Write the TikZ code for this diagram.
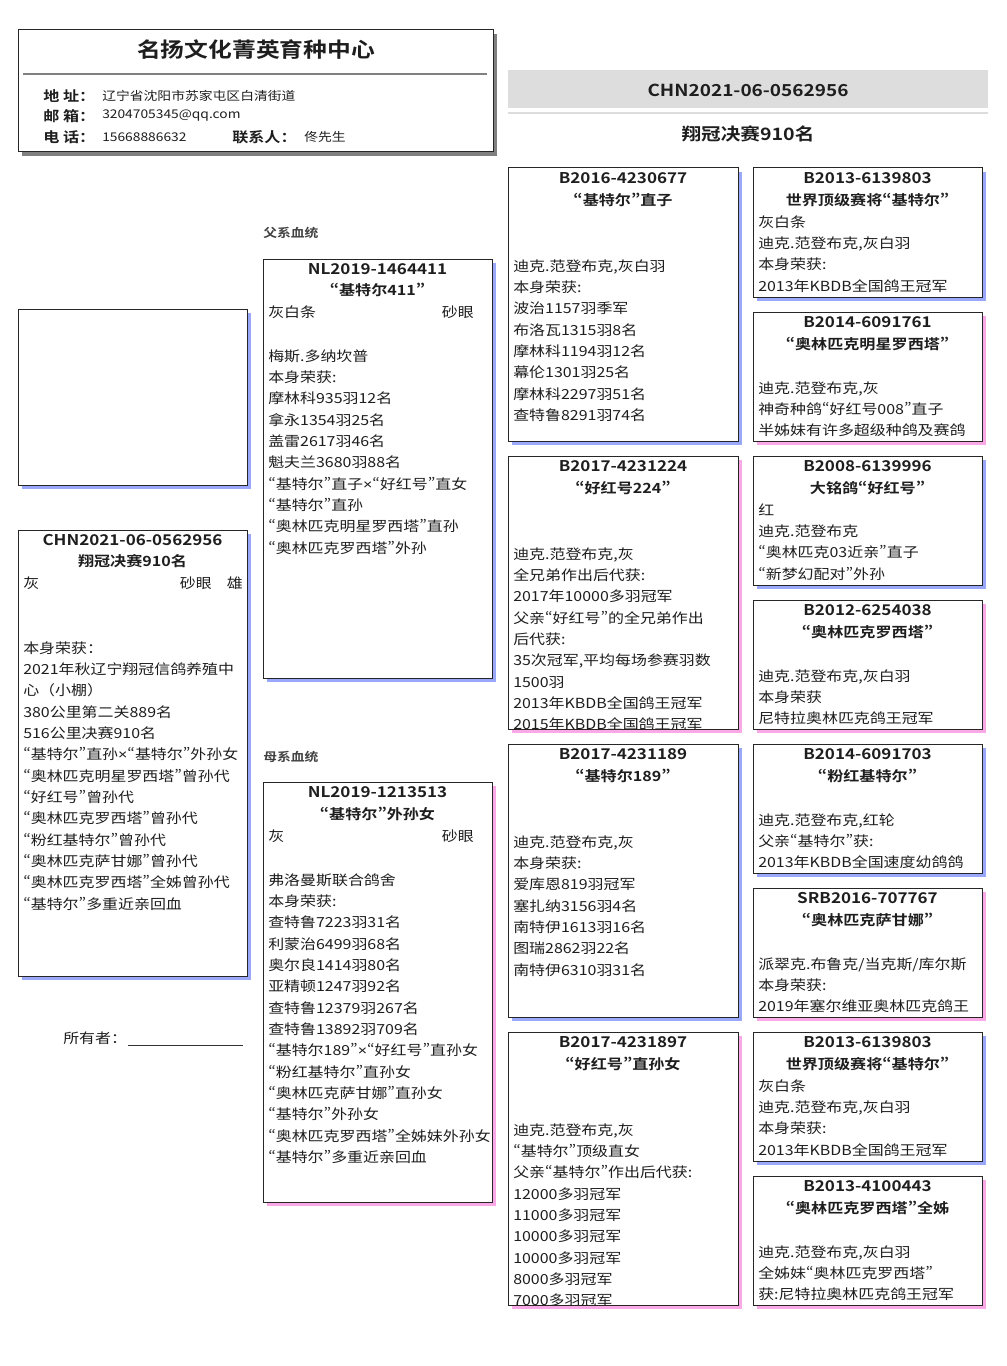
\documentclass[tikz,border=0pt]{standalone}
\usepackage{fontspec}
\setmainfont{Noto Sans CJK SC}[FakeStretch=1.15,CharacterWidth=Proportional,BoldFont={Noto Sans CJK SC Bold}]
\newfontfamily\widecjk{Noto Sans CJK SC}[FakeStretch=1.15]
\newfontfamily\latinsign{Liberation Sans}[FakeStretch=1.15]
\usetikzlibrary{shadows}

\definecolor{cockblue}{RGB}{153,168,250}
\definecolor{henpink}{RGB}{250,168,230}
\definecolor{bandgray}{RGB}{221,221,221}
\definecolor{inkgray}{RGB}{30,30,30}

\tikzset{
    pedbox/.style={draw=black!85, fill=white, line width=0.75pt},
    cockbox/.style={pedbox, drop shadow={shadow xshift=3.2pt, shadow yshift=-3.2pt, fill=cockblue, opacity=1}},
    henbox/.style={pedbox, drop shadow={shadow xshift=3.2pt, shadow yshift=-3.2pt, fill=henpink, opacity=1}},
    ringno/.style={inner sep=0pt, text=inkgray, font=\bfseries\fontsize{11.1}{13}\selectfont},
    pname/.style={inner sep=0pt, text=inkgray, font=\bfseries\fontsize{10.5}{12}\selectfont},
    bodytext/.style={anchor=north west, inner sep=0pt, align=left, text=inkgray, font=\fontsize{10.4}{16}\selectfont},
    oneline/.style={inner sep=0pt, text=inkgray, font=\fontsize{10.4}{12}\selectfont},
    infolabel/.style={anchor=west, inner sep=0pt, text=inkgray, font=\bfseries\fontsize{10.5}{12}\selectfont},
    infotext/.style={anchor=west, inner sep=0pt, text=inkgray, font=\fontsize{9}{11}\selectfont},
    linelabel/.style={anchor=west, inner sep=0pt, text=black!75, font=\bfseries\fontsize{9}{11}\selectfont}
}

\begin{document}
\begin{tikzpicture}[x=0.75pt,y=-0.75pt]
    \useasboundingbox (0,0) rectangle (1006,1366);

    % club header
    \draw[pedbox, drop shadow={shadow xshift=3pt, shadow yshift=-3pt, fill=gray, opacity=1}] (18,30) rectangle (493,152);
    \node[inner sep=0pt, text=inkgray, font=\bfseries\fontsize{15.5}{18}\selectfont] (club) at (256,50) {名扬文化菁英育种中心};
    \draw[gray, line width=0.8pt] (23,74) -- (487,74);
    \node[infolabel] (addr-l) at (43,96) {地 址：};
    \node[infotext] (addr) at (102,96) {辽宁省沈阳市苏家屯区白清街道};
    \node[infolabel] (mail-l) at (43,116) {邮 箱：};
    \node[infotext] (mail) at (102,116) {3204705345@qq.com};
    \node[infolabel] (tel-l) at (43,137) {电 话：};
    \node[infotext] (tel) at (102,137) {15668886632};
    \node[infolabel] (contact-l) at (232,137) {联系人：};
    \node[infotext] (contact) at (304,137) {佟先生};

    % ring band
    \fill[bandgray] (508,70) rectangle (988,108);
    \draw[bandgray, line width=1.9pt] (508,113) -- (988,113);
    \node[inner sep=0pt, text=inkgray, font=\bfseries\fontsize{12.4}{15}\selectfont] (ring) at (748,90) {CHN2021-06-0562956};
    \node[inner sep=0pt, text=inkgray, font=\bfseries\fontsize{12.8}{15}\selectfont] (result) at (748,134) {翔冠决赛910名};

    % photo and subject
    \draw[cockbox] (18,309) rectangle (247,485);
    \draw[cockbox] (18,530) rectangle (247,976);
    \node[ringno] (s-ring) at (132.5,540) {CHN2021-06-0562956};
    \node[pname] (s-name) at (132.5,561) {翔冠决赛910名};
    \node[oneline, anchor=west] (s-colour) at (23,583) {灰};
    \node[oneline, anchor=east] (s-eye) at (212,583) {砂眼};
    \node[oneline, anchor=east] (s-sex) at (243,583) {雄};
    \node[bodytext] (s-text) at (23,638) {\strut 本身荣获{\widecjk ：}\\2021年秋辽宁翔冠信鸽养殖中\\心{\widecjk （}小棚{\widecjk ）}\\380公里第二关889名\\516公里决赛910名\\“基特尔”直孙{\latinsign ×}“基特尔”外孙女\\“奥林匹克明星罗西塔”曾孙代\\“好红号”曾孙代\\“奥林匹克罗西塔”曾孙代\\“粉红基特尔”曾孙代\\“奥林匹克萨甘娜”曾孙代\\“奥林匹克罗西塔”全姊曾孙代\\“基特尔”多重近亲回血};
    \node[oneline, anchor=west] (owner) at (63,1038) {所有者{\widecjk ：}};
    \draw[black!80, line width=0.6pt] (128,1045) -- (243,1045);

    % sire
    \node[linelabel] (sireline) at (263,233) {父系血统};
    \draw[cockbox] (263,259) rectangle (492,678);
    \node[ringno] (f-ring) at (377.5,269) {NL2019-1464411};
    \node[pname] (f-name) at (377.5,290) {“基特尔411”};
    \node[oneline, anchor=west] (f-colour) at (268,312) {灰白条};
    \node[oneline, anchor=east] (f-eye) at (474,312) {砂眼};
    \node[bodytext] (f-text) at (268,346) {\strut 梅斯.多纳坎普\\本身荣获:\\摩林科935羽12名\\拿永1354羽25名\\盖雷2617羽46名\\魁夫兰3680羽88名\\“基特尔”直子{\latinsign ×}“好红号”直女\\“基特尔”直孙\\“奥林匹克明星罗西塔”直孙\\“奥林匹克罗西塔”外孙};

    % dam
    \node[linelabel] (damline) at (263,757) {母系血统};
    \draw[henbox] (263,782) rectangle (492,1202);
    \node[ringno] (m-ring) at (377.5,792) {NL2019-1213513};
    \node[pname] (m-name) at (377.5,814) {“基特尔”外孙女};
    \node[oneline, anchor=west] (m-colour) at (268,836) {灰};
    \node[oneline, anchor=east] (m-eye) at (474,836) {砂眼};
    \node[bodytext] (m-text) at (268,870) {\strut 弗洛曼斯联合鸽舍\\本身荣获:\\查特鲁7223羽31名\\利蒙治6499羽68名\\奥尔良1414羽80名\\亚精顿1247羽92名\\查特鲁12379羽267名\\查特鲁13892羽709名\\“基特尔189”{\latinsign ×}“好红号”直孙女\\“粉红基特尔”直孙女\\“奥林匹克萨甘娜”直孙女\\“基特尔”外孙女\\“奥林匹克罗西塔”全姊妹外孙女\\“基特尔”多重近亲回血};

    % grandparents
    \draw[cockbox] (508,168) rectangle (738,441);
    \node[ringno] (ff-ring) at (623,178.5) {B2016-4230677};
    \node[pname] (ff-name) at (623,199.5) {“基特尔”直子};
    \node[bodytext] (ff-text) at (513,256) {\strut 迪克.范登布克,灰白羽\\本身荣获:\\波治1157羽季军\\布洛瓦1315羽8名\\摩林科1194羽12名\\幕伦1301羽25名\\摩林科2297羽51名\\查特鲁8291羽74名};

    \draw[henbox] (508,456) rectangle (738,729);
    \node[ringno] (fm-ring) at (623,466.5) {B2017-4231224};
    \node[pname] (fm-name) at (623,487.5) {“好红号224”};
    \begin{scope}
        \clip (508,456) rectangle (738,729);
        \node[bodytext] (fm-text) at (513,544) {\strut 迪克.范登布克,灰\\全兄弟作出后代获:\\2017年10000多羽冠军\\父亲“好红号”的全兄弟作出\\后代获:\\35次冠军,平均每场参赛羽数\\1500羽\\2013年KBDB全国鸽王冠军\\2015年KBDB全国鸽王冠军};
    \end{scope}
    \draw[black!85, line width=0.75pt] (508,729) -- (738,729);

    \draw[cockbox] (508,744) rectangle (738,1017);
    \node[ringno] (mf-ring) at (623,754.5) {B2017-4231189};
    \node[pname] (mf-name) at (623,775.5) {“基特尔189”};
    \node[bodytext] (mf-text) at (513,832) {\strut 迪克.范登布克,灰\\本身荣获:\\爱库恩819羽冠军\\塞扎纳3156羽4名\\南特伊1613羽16名\\图瑞2862羽22名\\南特伊6310羽31名};

    \draw[henbox] (508,1032) rectangle (738,1305);
    \node[ringno] (mm-ring) at (623,1042.5) {B2017-4231897};
    \node[pname] (mm-name) at (623,1063.5) {“好红号”直孙女};
    \begin{scope}
        \clip (508,1032) rectangle (738,1305);
        \node[bodytext] (mm-text) at (513,1120) {\strut 迪克.范登布克,灰\\“基特尔”顶级直女\\父亲“基特尔”作出后代获:\\12000多羽冠军\\11000多羽冠军\\10000多羽冠军\\10000多羽冠军\\8000多羽冠军\\7000多羽冠军};
    \end{scope}
    \draw[black!85, line width=0.75pt] (508,1305) -- (738,1305);

    % great-grandparents
    \draw[cockbox] (753,168) rectangle (982,297);
    \node[ringno] (fff-ring) at (867.5,178.5) {B2013-6139803};
    \node[pname] (fff-name) at (867.5,199.5) {世界顶级赛将“基特尔”};
    \node[bodytext] (fff-text) at (758,212) {\strut 灰白条\\迪克.范登布克,灰白羽\\本身荣获:\\2013年KBDB全国鸽王冠军};

    \draw[henbox] (753,312) rectangle (982,441);
    \node[ringno] (ffm-ring) at (867.5,322.5) {B2014-6091761};
    \node[pname] (ffm-name) at (867.5,343.5) {“奥林匹克明星罗西塔”};
    \node[bodytext] (ffm-text) at (758,378) {\strut 迪克.范登布克,灰\\神奇种鸽“好红号008”直子\\半姊妹有许多超级种鸽及赛鸽};

    \draw[cockbox] (753,456) rectangle (982,585);
    \node[ringno] (fmf-ring) at (867.5,466.5) {B2008-6139996};
    \node[pname] (fmf-name) at (867.5,487.5) {大铭鸽“好红号”};
    \node[bodytext] (fmf-text) at (758,500) {\strut 红\\迪克.范登布克\\“奥林匹克03近亲”直子\\“新梦幻配对”外孙};

    \draw[henbox] (753,600) rectangle (982,729);
    \node[ringno] (fmm-ring) at (867.5,610.5) {B2012-6254038};
    \node[pname] (fmm-name) at (867.5,631.5) {“奥林匹克罗西塔”};
    \node[bodytext] (fmm-text) at (758,666) {\strut 迪克.范登布克,灰白羽\\本身荣获\\尼特拉奥林匹克鸽王冠军};

    \draw[cockbox] (753,744) rectangle (982,873);
    \node[ringno] (mff-ring) at (867.5,754.5) {B2014-6091703};
    \node[pname] (mff-name) at (867.5,775.5) {“粉红基特尔”};
    \node[bodytext] (mff-text) at (758,810) {\strut 迪克.范登布克,红轮\\父亲“基特尔”获:\\2013年KBDB全国速度幼鸽鸽};

    \draw[henbox] (753,888) rectangle (982,1017);
    \node[ringno] (mfm-ring) at (867.5,898.5) {SRB2016-707767};
    \node[pname] (mfm-name) at (867.5,919.5) {“奥林匹克萨甘娜”};
    \node[bodytext] (mfm-text) at (758,954) {\strut 派翠克.布鲁克/当克斯/库尔斯\\本身荣获:\\2019年塞尔维亚奥林匹克鸽王};

    \draw[cockbox] (753,1032) rectangle (982,1161);
    \node[ringno] (mmf-ring) at (867.5,1042.5) {B2013-6139803};
    \node[pname] (mmf-name) at (867.5,1063.5) {世界顶级赛将“基特尔”};
    \node[bodytext] (mmf-text) at (758,1076) {\strut 灰白条\\迪克.范登布克,灰白羽\\本身荣获:\\2013年KBDB全国鸽王冠军};

    \draw[henbox] (753,1176) rectangle (982,1305);
    \node[ringno] (mmm-ring) at (867.5,1186.5) {B2013-4100443};
    \node[pname] (mmm-name) at (867.5,1207.5) {“奥林匹克罗西塔”全姊};
    \node[bodytext] (mmm-text) at (758,1242) {\strut 迪克.范登布克,灰白羽\\全姊妹“奥林匹克罗西塔”\\获:尼特拉奥林匹克鸽王冠军};
\end{tikzpicture}
\end{document}
